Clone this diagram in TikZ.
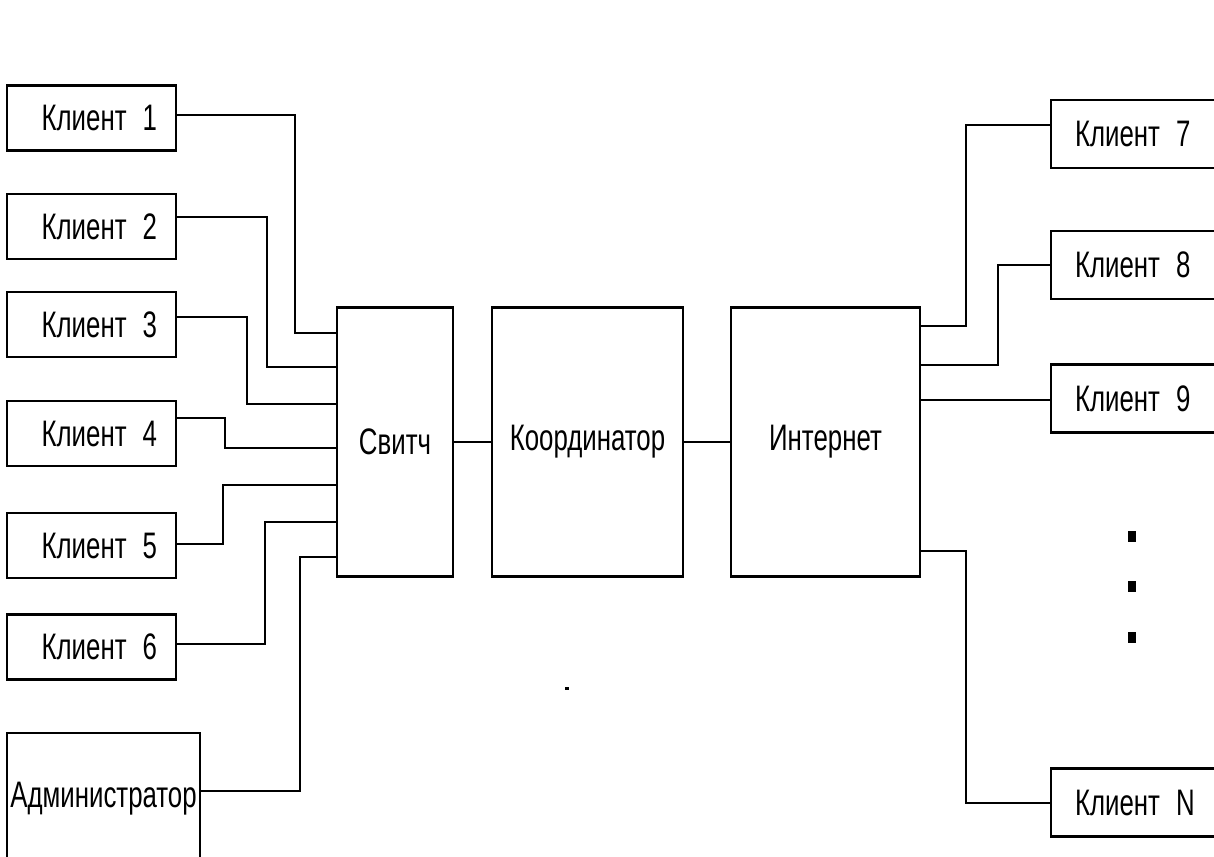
\documentclass[tikz,border=0pt]{standalone}
\usepackage{fontspec}
\setmainfont{Liberation Sans}[FakeStretch=0.7]
\newcommand\klient[1]{Клиент\hspace{.32cm}#1}
\begin{document}
\begin{tikzpicture}[x=0.02cm,y=-0.02cm,line width=1.25pt,
  every node/.style={font=\fontsize{21}{25}\selectfont},
  box/.style={draw,inner sep=0pt},
  lcl/.style={box,minimum width=3.38cm,minimum height=1.3cm,text width=2.62cm,inner xsep=0.38cm,align=right},
  rcl/.style={box,minimum width=3.6cm,minimum height=1.36cm,text width=2.64cm,inner xsep=0.48cm,align=left},
  big/.style={box,minimum height=5.38cm}]
\useasboundingbox (0,0) rectangle (1214,856);
% clients on the left
\node[lcl] (c1) at (91.5,118) {\klient 1};
\node[lcl] (c2) at (91.5,226.5) {\klient 2};
\node[lcl] (c3) at (91.5,324.5) {\klient 3};
\node[lcl] (c4) at (91.5,433.5) {\klient 4};
\node[lcl] (c5) at (91.5,545.5) {\klient 5};
\node[lcl] (c6) at (91.5,647) {\klient 6};
\node[box,anchor=base,minimum width=3.86cm,text height=1.48cm,text depth=1.46cm] (adm) at (103.5,807) {Администратор};
% middle
\node[big,minimum width=2.32cm] (sw) at (395,442) {Свитч};
\node[big,minimum width=3.82cm] (koord) at (587.5,442) {Координатор};
\node[big,minimum width=3.78cm] (inet) at (825.5,442) {Интернет};
% clients on the right
\node[rcl] (c7) at (1141,134) {\klient 7};
\node[rcl] (c8) at (1141,265) {\klient 8};
\node[rcl] (c9) at (1141,398.5) {\klient 9};
\node[rcl] (cN) at (1141,802.5) {\klient N};
% wires
\foreach \n/\ya/\xm/\yb in {1/115/295/333,2/217/267/367,3/317/247/404,4/418/225/448,5/544/223/485,6/644/265/522}
  \draw (c\n.east |- 0,\ya) -| (\xm,\yb) -- (sw.west |- 0,\yb);
\draw (adm.east |- 0,791) -| (300,557) -- (sw.west |- 0,557);
\draw (sw.east) -- (koord.west);
\draw (koord.east) -- (inet.west);
\draw (inet.east |- 0,326) -| (966,125) -- (c7.west |- 0,125);
\draw (inet.east |- 0,365) -| (998,265) -- (c8.west |- 0,265);
\draw (inet.east |- 0,400) -- (c9.west |- 0,400);
\draw (inet.east |- 0,551) -| (966,803) -- (cN.west |- 0,803);
\foreach \y in {536,586,637} \fill (1128,\y) ++(0,-5.5) rectangle ++(8,11);
\fill (565,687) rectangle (569,690);
\end{tikzpicture}
\end{document}
